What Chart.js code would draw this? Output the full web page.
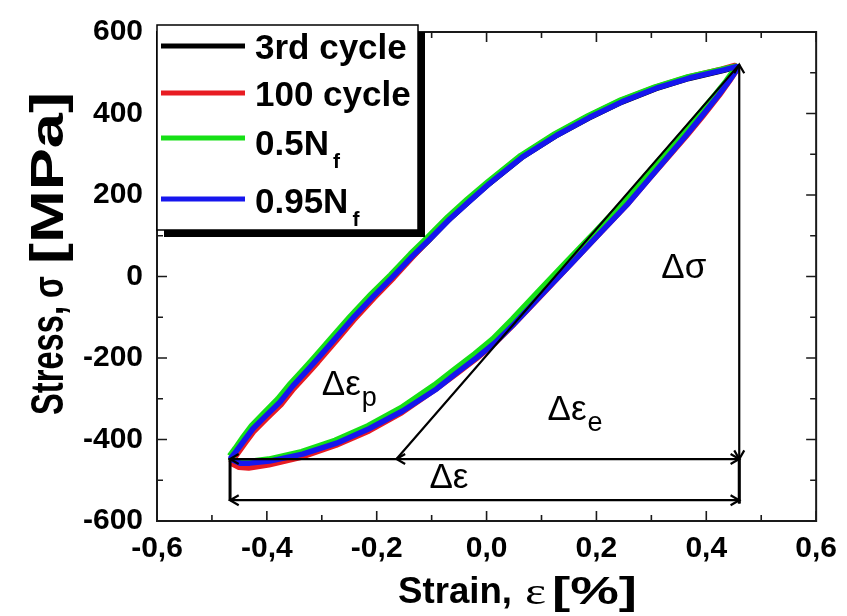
<!DOCTYPE html>
<html>
<head>
<meta charset="utf-8">
<script src="https://cdn.jsdelivr.net/npm/chart.js@4.4.0/dist/chart.umd.min.js"></script>
<style>
  html, body { margin: 0; padding: 0; background: #fff; }
  #wrap { width: 847px; height: 616px; position: relative; }
</style>
</head>
<body>
<div id="wrap"><canvas id="loop"></canvas></div>
<script>
/* Stress-strain hysteresis loops, 4 cycles overlaid, with Δσ / Δε annotations */

// axis ticks
const xTickVals  = [-0.6, -0.4, -0.2, 0, 0.2, 0.4, 0.6];
const xMinorVals = [-0.5, -0.3, -0.1, 0.1, 0.3, 0.5];
const yTickVals  = [-600, -400, -200, 0, 200, 400, 600];
const yMinorVals = [-500, -300, -100, 100, 300, 500];

// series labels / colors
const seriesNames  = ["3rd cycle", "100 cycle", "0.5N", "0.95N"];
const seriesSubs   = ["", "", "f", "f"];
const seriesColors = ["#000000", "#e81c22", "#16e016", "#1616ee"];

// 3rd cycle (mostly hidden under the others)
const strain3rd = [-0.467,-0.456,-0.441,-0.426,-0.403,-0.377,-0.354,-0.328,-0.310,-0.277,-0.245,-0.208,-0.172,-0.136,-0.105,-0.068,-0.032,0.004,0.064,0.126,0.186,0.246,0.308,0.368,0.428,0.455,
                   0.455,0.438,0.418,0.389,0.360,0.325,0.291,0.253,0.202,0.151,0.100,0.049,0.013,-0.020,-0.057,-0.093,-0.155,-0.215,-0.275,-0.337,-0.397,-0.433,-0.451,-0.467];
const stress3rd = [-452,-432,-403,-376,-345,-311,-272,-234,-207,-156,-106,-52,-3,48,89,140,184,227,292,345,389,428,461,486,505,514,
                   507,477,441,392,344,289,235,175,103,30,-42,-115,-163,-199,-236,-271,-327,-372,-408,-436,-453,-458,-458,-452];

// 100 cycle
const strain100 = [-0.466,-0.454,-0.438,-0.423,-0.400,-0.374,-0.351,-0.325,-0.307,-0.274,-0.242,-0.205,-0.169,-0.134,-0.104,-0.067,-0.031,0.004,0.064,0.126,0.186,0.246,0.308,0.368,0.428,0.452,
                   0.457,0.443,0.424,0.394,0.364,0.328,0.293,0.255,0.204,0.153,0.102,0.050,0.014,-0.019,-0.056,-0.092,-0.154,-0.214,-0.274,-0.336,-0.396,-0.433,-0.451,-0.466];
const stress100 = [-458,-436,-406,-379,-348,-314,-275,-237,-210,-158,-107,-53,-3,49,92,143,188,232,297,350,394,433,465,490,509,518,
                   510,481,445,394,345,289,235,175,103,30,-43,-117,-165,-202,-240,-276,-334,-379,-414,-443,-462,-470,-468,-458];

// 0.5 Nf
const strainHalf = [-0.468,-0.458,-0.443,-0.428,-0.405,-0.380,-0.357,-0.331,-0.313,-0.280,-0.248,-0.211,-0.175,-0.139,-0.108,-0.071,-0.035,0.002,0.062,0.124,0.184,0.244,0.306,0.366,0.427,0.454,
                    0.452,0.436,0.415,0.385,0.356,0.320,0.286,0.249,0.199,0.148,0.097,0.047,0.011,-0.022,-0.059,-0.095,-0.156,-0.216,-0.276,-0.337,-0.397,-0.433,-0.451,-0.468];
const stressHalf = [-440,-422,-393,-366,-334,-300,-262,-224,-197,-146,-97,-44,4,55,96,146,190,232,297,350,394,433,465,490,508,516,
                    510,480,445,397,350,295,242,184,112,40,-32,-104,-153,-190,-228,-266,-322,-366,-402,-430,-448,-454,-455,-445];

// 0.95 Nf
const strainEnd = [-0.467,-0.456,-0.440,-0.425,-0.402,-0.376,-0.353,-0.327,-0.309,-0.276,-0.244,-0.207,-0.171,-0.135,-0.104,-0.067,-0.031,0.005,0.065,0.127,0.187,0.247,0.309,0.369,0.429,0.455,
                   0.456,0.440,0.420,0.391,0.362,0.327,0.293,0.255,0.204,0.153,0.102,0.051,0.015,-0.018,-0.055,-0.091,-0.153,-0.213,-0.273,-0.335,-0.395,-0.431,-0.449,-0.467];
const stressEnd = [-448,-429,-400,-373,-342,-308,-269,-231,-204,-153,-103,-50,-1,50,91,141,185,228,293,346,390,429,462,487,506,515,
                   508,477,441,392,344,289,235,175,103,30,-42,-115,-163,-199,-237,-276,-330,-373,-409,-436,-453,-458,-458,-448];

// annotation geometry (data units)
const annoStrain = [-0.467, -0.164, 0.46];        // left tip, start of elastic line, right tip
const annoStress = [520, -448, -549, -557];       // peak, lower tip level, Δε line, end of Δσ line
const noteMain = ["Δσ", "Δε", "Δε", "Δε"];
const noteSub  = ["", "p", "e", ""];
const noteX    = [0.318, -0.300, 0.111, -0.104];
const noteY    = [-4, -291, -351, -518];

const SANS  = '"Liberation Sans", Arial, sans-serif';
const SERIF = '"Liberation Serif", "Times New Roman", serif';

function pts(xs, ys) { return xs.map((x, i) => ({ x: x, y: ys[i] })); }

// draw a text run squeezed/stretched into [x0, x1]
function fitText(ctx, str, font, x0, x1, base) {
  ctx.save();
  ctx.font = font;
  ctx.textAlign = "left"; ctx.textBaseline = "alphabetic";
  const w = ctx.measureText(str).width;
  ctx.translate(x0, base);
  ctx.scale((x1 - x0) / w, 1);
  ctx.fillText(str, 0, 0);
  ctx.restore();
}

function arrowHead(ctx, tx, ty, ang) {
  const L = 10, a = Math.PI / 6;
  ctx.beginPath();
  ctx.moveTo(tx - L * Math.cos(ang - a), ty - L * Math.sin(ang - a));
  ctx.lineTo(tx, ty);
  ctx.lineTo(tx - L * Math.cos(ang + a), ty - L * Math.sin(ang + a));
  ctx.stroke();
}

// plot frame with inward ticks on all four sides
const framePlugin = {
  id: "frame",
  afterDraw(chart) {
    const { ctx, chartArea: a, scales: { x, y } } = chart;
    ctx.save();
    ctx.strokeStyle = "#1a1a1a"; ctx.lineWidth = 2;
    ctx.strokeRect(a.left, a.top, a.right - a.left, a.bottom - a.top);
    ctx.lineWidth = 1.6;
    const tx = (v, len) => {
      const p = x.getPixelForValue(v);
      ctx.beginPath();
      ctx.moveTo(p, a.bottom); ctx.lineTo(p, a.bottom - len);
      ctx.moveTo(p, a.top); ctx.lineTo(p, a.top + len);
      ctx.stroke();
    };
    const ty = (v, len) => {
      const p = y.getPixelForValue(v);
      ctx.beginPath();
      ctx.moveTo(a.left, p); ctx.lineTo(a.left + len, p);
      ctx.moveTo(a.right, p); ctx.lineTo(a.right - len, p);
      ctx.stroke();
    };
    xTickVals.forEach(v => tx(v, 10)); xMinorVals.forEach(v => tx(v, 6));
    yTickVals.forEach(v => ty(v, 10)); yMinorVals.forEach(v => ty(v, 6));
    ctx.restore();
  }
};

// Δσ / Δε arrows and labels
const notesPlugin = {
  id: "notes",
  afterDatasetsDraw(chart) {
    const { ctx, scales: { x, y } } = chart;
    const xL = x.getPixelForValue(annoStrain[0]), xM = x.getPixelForValue(annoStrain[1]), xR = x.getPixelForValue(annoStrain[2]);
    const yP = y.getPixelForValue(annoStress[0]), yT = y.getPixelForValue(annoStress[1]);
    const yD = y.getPixelForValue(annoStress[2]), yE = y.getPixelForValue(annoStress[3]);
    ctx.save();
    ctx.strokeStyle = "#000"; ctx.fillStyle = "#000"; ctx.lineCap = "butt";
    ctx.lineWidth = 2.2;
    ctx.beginPath();
    ctx.moveTo(xR, yP); ctx.lineTo(xR, yE);          // Δσ
    ctx.moveTo(xL, yT); ctx.lineTo(xR, yT);          // upper strain line
    ctx.moveTo(xL, yD); ctx.lineTo(xR, yD);          // Δε
    ctx.moveTo(xM, yT); ctx.lineTo(xR, yP);          // elastic slope
    ctx.stroke();
    ctx.lineWidth = 3;
    ctx.beginPath();
    ctx.moveTo(xL, yT); ctx.lineTo(xL, yD);
    ctx.moveTo(xR, yT); ctx.lineTo(xR, yE);
    ctx.stroke();
    ctx.lineWidth = 2.2;
    arrowHead(ctx, xR, yP, -Math.PI / 2);
    arrowHead(ctx, xR, yT, Math.PI / 2);
    arrowHead(ctx, xR, yT, 0);
    arrowHead(ctx, xM, yT, Math.PI);
    arrowHead(ctx, xL, yT, Math.PI);
    arrowHead(ctx, xR, yD, 0);
    arrowHead(ctx, xL, yD, Math.PI);

    ctx.textAlign = "left"; ctx.textBaseline = "alphabetic";
    noteMain.forEach((t, i) => {
      const px = x.getPixelForValue(noteX[i]), py = y.getPixelForValue(noteY[i]);
      ctx.font = `35px ${SANS}`;
      ctx.fillText(t, px, py);
      if (noteSub[i]) {
        const w = ctx.measureText(t).width;
        ctx.font = `27px ${SANS}`;
        ctx.fillText(noteSub[i], px + w + 1, py + 11);
      }
    });
    ctx.restore();
  }
};

// boxed legend with drop shadow
const legendPlugin = {
  id: "boxLegend",
  afterDraw(chart) {
    const ctx = chart.ctx;
    const bx = 157, by = 25, bw = 261, bh = 205;
    const lineY = [46, 93, 138, 199], textY = [59, 106, 155, 213];
    ctx.save();
    ctx.fillStyle = "#000";
    ctx.fillRect(bx + 7, by + 7, bw, bh);
    ctx.fillStyle = "#fff";
    ctx.fillRect(bx, by, bw, bh);
    ctx.strokeStyle = "#000"; ctx.lineWidth = 1.5;
    ctx.strokeRect(bx, by, bw, bh);
    seriesNames.forEach((name, i) => {
      ctx.strokeStyle = seriesColors[i]; ctx.lineWidth = 5;
      ctx.beginPath(); ctx.moveTo(161, lineY[i]); ctx.lineTo(245, lineY[i]); ctx.stroke();
      ctx.fillStyle = "#000";
      ctx.font = `bold 35px ${SANS}`;
      ctx.textAlign = "left"; ctx.textBaseline = "alphabetic";
      ctx.fillText(name, 255, textY[i]);
      if (seriesSubs[i]) {
        const w = ctx.measureText(name).width;
        ctx.font = `bold 21px ${SANS}`;
        ctx.fillText(seriesSubs[i], 255 + w + 4, textY[i] + 13);
      }
    });
    ctx.restore();
  }
};

// axis titles (mixed bold / symbol fonts)
const titlesPlugin = {
  id: "titles",
  afterDraw(chart) {
    const ctx = chart.ctx;
    ctx.save();
    ctx.fillStyle = "#000";
    fitText(ctx, "Strain,", `bold 36px ${SANS}`, 398, 512, 603);
    fitText(ctx, "ε", `38px ${SERIF}`, 525, 546, 604);
    fitText(ctx, "[%]", `bold 38px ${SANS}`, 552, 637, 604);

    const seg = (str, font, yStart, yEnd) => {
      ctx.save();
      ctx.translate(63, yStart);
      ctx.rotate(-Math.PI / 2);
      fitText(ctx, str, font, 0, yStart - yEnd, 0);
      ctx.restore();
    };
    seg("Stress,", `bold 46px ${SANS}`, 415, 306);
    seg("σ", `bold 42px ${SANS}`, 298, 276);
    seg("[MPa]", `bold 46px ${SANS}`, 264, 92);
    ctx.restore();
  }
};

const tickFont = { family: SANS, size: 30, weight: "bold" };
const runs = [[strain3rd, stress3rd], [strain100, stress100], [strainHalf, stressHalf], [strainEnd, stressEnd]];

new Chart(document.getElementById("loop"), {
  type: "scatter",
  data: {
    datasets: runs.map((r, i) => ({
      label: seriesNames[i] + seriesSubs[i],
      data: pts(r[0], r[1]),
      showLine: true,
      borderColor: seriesColors[i],
      backgroundColor: seriesColors[i],
      borderWidth: 5.5,
      pointRadius: 0,
      tension: 0,
      borderJoinStyle: "round",
      order: 4 - i
    }))
  },
  options: {
    responsive: true, maintainAspectRatio: false, animation: false,
    layout: { padding: { top: 24, right: 29, left: 0, bottom: 0 } },
    plugins: { legend: { display: false }, tooltip: { enabled: false } },
    scales: {
      x: {
        type: "linear", min: -0.6, max: 0.6,
        grid: { display: false, drawTicks: false }, border: { display: false },
        afterBuildTicks: s => { s.ticks = xTickVals.map(v => ({ value: v })); },
        afterFit: s => { s.height = 95; },
        ticks: {
          font: tickFont, color: "#000", padding: 10, maxRotation: 0, autoSkip: false,
          callback: v => (v === 0 ? "0,0" : v.toFixed(1).replace(".", ","))
        }
      },
      y: {
        type: "linear", min: -600, max: 600,
        grid: { display: false, drawTicks: false }, border: { display: false },
        afterBuildTicks: s => { s.ticks = yTickVals.map(v => ({ value: v })); },
        afterFit: s => { s.width = 157; },
        ticks: { font: tickFont, color: "#000", padding: 14, autoSkip: false, callback: v => String(v) }
      }
    }
  },
  plugins: [framePlugin, notesPlugin, legendPlugin, titlesPlugin]
});
</script>
</body>
</html>
